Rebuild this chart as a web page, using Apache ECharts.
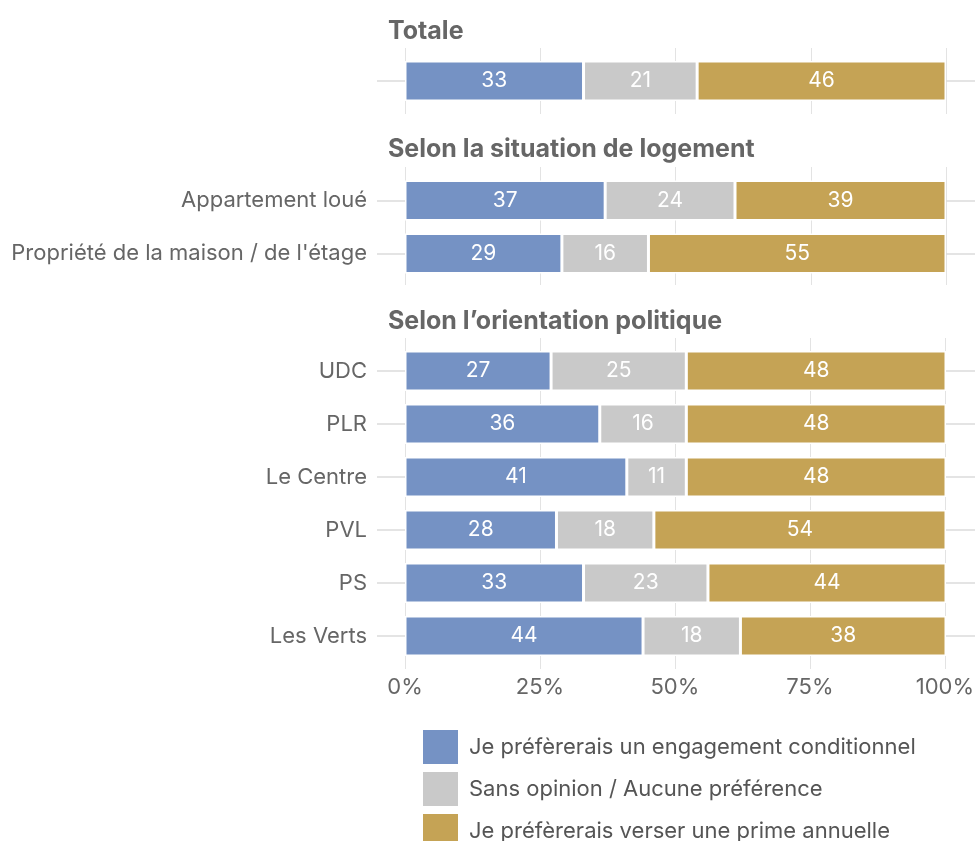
<!DOCTYPE html>
<html>
<head>
<meta charset="utf-8">
<script src="https://cdn.jsdelivr.net/npm/echarts@6/dist/echarts.min.js"></script>
<style>
  html, body { margin: 0; padding: 0; background: #fff; }
  #chart { width: 977px; height: 841px; }
</style>
</head>
<body>
<div id="chart"></div>
<script>
const panelTitles = ['Totale', 'Selon la situation de logement', 'Selon l\u2019orientation politique']
const seriesNames = [
  'Je préfèrerais un engagement conditionnel',
  'Sans opinion / Aucune préférence',
  'Je préfèrerais verser une prime annuelle'
]
const colors = ['#7592c4', '#c9c9c9', '#c5a355']

// categories per panel
const catsTotal = ['']
const catsLogement = ['Appartement loué', 'Propriété de la maison / de l\'étage']
const catsPolitique = ['UDC', 'PLR', 'Le Centre', 'PVL', 'PS', 'Les Verts']

// values: conditionnel, sans opinion, prime
const condTotal = [33]
const sansTotal = [21]
const primeTotal = [46]

const condLogement = [37, 29]
const sansLogement = [24, 16]
const primeLogement = [39, 55]

const condPolitique = [27, 36, 41, 28, 33, 44]
const sansPolitique = [25, 16, 11, 18, 23, 18]
const primePolitique = [48, 48, 48, 54, 44, 38]

const panels = [
  { cats: catsTotal, vals: [condTotal, sansTotal, primeTotal], barTop: 54.5, gridTop: 48, gridH: 66, titleTop: 14 },
  { cats: catsLogement, vals: [condLogement, sansLogement, primeLogement], barTop: 174, gridTop: 167, gridH: 118, titleTop: 132 },
  { cats: catsPolitique, vals: [condPolitique, sansPolitique, primePolitique], barTop: 344.5, gridTop: 338, gridH: 331, titleTop: 304 }
]
const rowH = 53
const font = 'Inter, Roboto, sans-serif'

const myChart = echarts.init(document.getElementById('chart'))

const grid = []
const xAxis = []
const yAxis = []
const series = []
const title = []

panels.forEach((p, i) => {
  const last = i === panels.length - 1
  // background grid: vertical gridlines over the full panel height
  grid.push({ left: 405, right: 31, top: p.gridTop, height: p.gridH })
  xAxis.push({
    gridIndex: grid.length - 1, type: 'value', min: 0, max: 100, interval: 25,
    axisLine: { show: false }, axisTick: { show: false },
    splitLine: { show: true, lineStyle: { color: '#e3e3e3', width: 1 } },
    axisLabel: {
      show: last, formatter: '{value}%', color: '#666', fontSize: 22,
      fontFamily: font, margin: 7
    }
  })
  yAxis.push({ gridIndex: grid.length - 1, type: 'value', min: 0, max: 1, show: false })

  // bar grid
  grid.push({ left: 405, right: 31, top: p.barTop, height: p.cats.length * rowH })
  const g = grid.length - 1
  xAxis.push({ gridIndex: g, type: 'value', min: 0, max: 100, show: false })
  const yLeft = yAxis.length
  yAxis.push({
    gridIndex: g, type: 'category', data: p.cats, inverse: true,
    axisLine: { show: false },
    axisTick: { show: true, alignWithLabel: true, length: 28, lineStyle: { color: '#dcdcdc', width: 1.5 } },
    splitLine: { show: false },
    axisLabel: { color: '#666', fontSize: 22, fontFamily: font, margin: 38 }
  })
  yAxis.push({
    gridIndex: g, type: 'category', data: p.cats, inverse: true, position: 'right',
    axisLine: { show: false },
    axisTick: { show: true, alignWithLabel: true, length: 29, lineStyle: { color: '#dcdcdc', width: 1.5 } },
    axisLabel: { show: false }
  })

  seriesNames.forEach((name, k) => {
    series.push({
      name, type: 'bar', stack: 'p' + i,
      xAxisIndex: xAxis.length - 1, yAxisIndex: yLeft,
      barWidth: 40, z: 3,
      itemStyle: { color: colors[k], borderColor: '#fff', borderWidth: 1.5 },
      label: { show: true, position: 'inside', color: '#fff', fontSize: 21, fontFamily: font },
      data: p.vals[k]
    })
  })

  title.push({
    text: panelTitles[i], left: 383, top: p.titleTop,
    textStyle: { color: '#666', fontSize: 25, fontWeight: 'bold', fontFamily: font }
  })
})

const option = {
  animation: false,
  color: colors,
  title,
  grid,
  xAxis,
  yAxis,
  series,
  legend: {
    data: seriesNames,
    orient: 'vertical',
    left: 421, top: 728, height: 160, padding: 0,
    itemWidth: 37, itemHeight: 36, itemGap: 4,
    icon: 'rect',
    textStyle: { color: '#555', fontSize: 22, fontFamily: font, padding: [0, 0, 0, 5] }
  }
}
// 绘制图表
myChart.setOption(option)
</script>
</body>
</html>
